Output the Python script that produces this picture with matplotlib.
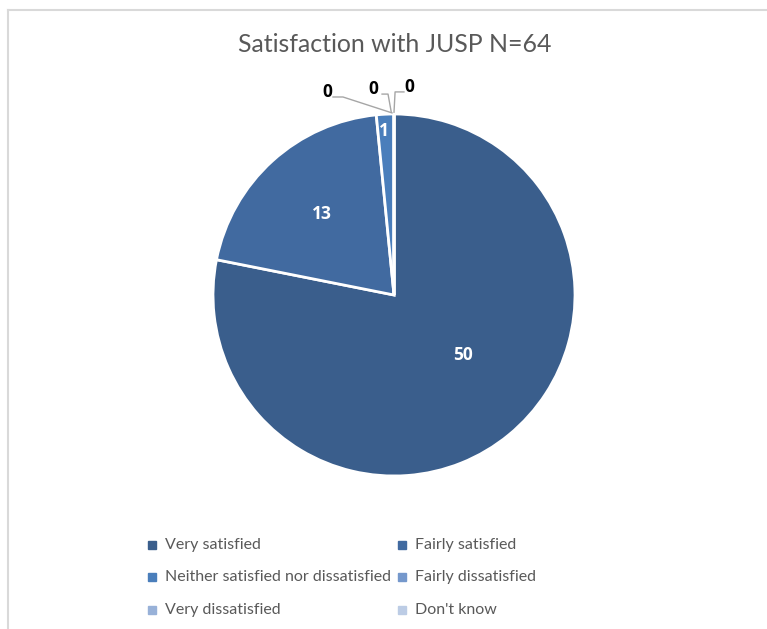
import matplotlib.pyplot as plt
from matplotlib.lines import Line2D
from matplotlib.patches import Rectangle

# Survey data
categories = ["Very satisfied", "Fairly satisfied",
              "Neither satisfied nor dissatisfied", "Fairly dissatisfied",
              "Very dissatisfied", "Don't know"]
counts = [50, 13, 1, 0, 0, 0]
colors = ["#3A5E8C", "#416AA0", "#4A7EBB", "#7598CC", "#98B1D8", "#BCCCE5"]

W, H = 767, 629
fig = plt.figure(figsize=(W / 100, H / 100), dpi=100)
FONT = "Lato"
BOLD = "Open Sans"

# chart frame (left + top edges only visible)
fig.add_artist(Line2D([8 / W, 8 / W], [0, 1 - 10 / H], color="#D9D9D9", lw=1.5))
fig.add_artist(Line2D([8 / W, 1], [1 - 10 / H, 1 - 10 / H], color="#D9D9D9", lw=1.5))

# pie axes: center (394, 295) px, radius 181 px
cx, cy, r, k = 394, 295, 181, 1.5
ax = fig.add_axes([(cx - r * k) / W, (H - cy - r * k) / H, 2 * r * k / W, 2 * r * k / H])
wedges, _ = ax.pie(counts, colors=colors, startangle=90, counterclock=False,
                   wedgeprops=dict(edgecolor="white", linewidth=2))
ax.set_xlim(-k, k)
ax.set_ylim(-k, k)
ax.axis("off")

# labels inside the non-zero slices
label_pos = {0: (0.381, -0.331), 1: (-0.398, 0.448), 2: (-0.055, 0.906)}
for i, (x, y) in label_pos.items():
    ax.text(x, y, str(counts[i]), ha="center", va="center", color="white",
            fontsize=12.5, fontweight="bold", family=BOLD)

# zero slices: labels outside with leader lines
zero_labels = [
    ((-0.370, 1.122), [(-0.337, 1.094), (-0.282, 1.094), (-0.011, 1.006)]),
    ((-0.116, 1.138), [(-0.066, 1.110), (-0.033, 1.110), (-0.015, 1.010)]),
    ((0.083, 1.149), [(0.055, 1.122), (0.006, 1.122), (0.0, 1.010)]),
]
for idx, ((tx, ty), path) in zip([3, 4, 5], zero_labels):
    xs, ys = zip(*path)
    ax.plot(xs, ys, color="#A6A6A6", lw=1, clip_on=False)
    ax.text(tx, ty, str(counts[idx]), ha="center", va="center", color="black",
            fontsize=12.5, fontweight="bold", family=BOLD)

fig.text(395 / W, 1 - 44 / H, "Satisfaction with JUSP N=64", ha="center", va="center",
         fontsize=17.9, color="#595959", family=FONT)

# legend in two columns
col_x = [152, 402]
row_y = [545, 577, 610]
for i, (lab, col) in enumerate(zip(categories, colors)):
    mx = col_x[i % 2]
    my = row_y[i // 2]
    fig.add_artist(Rectangle(((mx - 4) / W, 1 - (my + 4) / H), 8 / W, 8 / H,
                             color=col, transform=fig.transFigure))
    fig.text((mx + 13) / W, 1 - my / H, lab, ha="left", va="center",
             fontsize=11.5, color="#595959", family=FONT)

plt.savefig("out.png", dpi=100, facecolor="white")
